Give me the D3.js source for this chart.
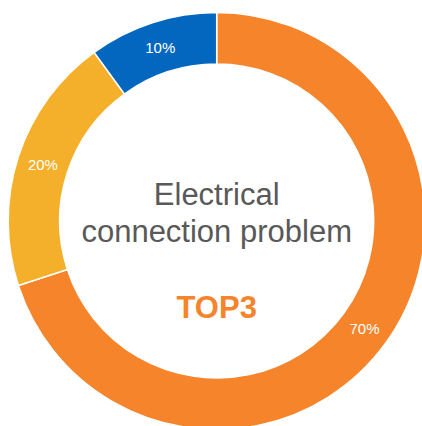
<!DOCTYPE html>
<html>
<head>
<meta charset="utf-8">
<script src="https://cdn.jsdelivr.net/npm/d3@7"></script>
<style>
  body { margin: 0; background: #fff; }
  svg { display: block; }
</style>
</head>
<body>
<div id="vis-tag"></div>
<script>
// data
const categories = ["TOP1", "TOP2", "TOP3"];
const values = [70, 20, 10];
const labels = ["70%", "20%", "10%"];
const colors = ["#F5842B", "#F5B02B", "#0467BF"];

const width = 422;
const height = 426;
const cx = 216.7, cy = 221;
const outerR = 208.5, innerR = 157;

const svg = d3.select("#vis-tag")
  .append("svg")
  .attr("width", width)
  .attr("height", height);

const g = svg.append("g").attr("transform", `translate(${cx},${cy})`);

const pie = d3.pie().sort(null).value(d => d.value);
const arc = d3.arc().innerRadius(innerR).outerRadius(outerR);

const data = categories.map((c, i) => ({ name: c, value: values[i], label: labels[i], color: colors[i] }));
const arcs = pie(data);

// 扇区
g.selectAll("path")
  .data(arcs)
  .enter()
  .append("path")
  .attr("d", arc)
  .attr("fill", d => d.data.color)
  .attr("stroke", "#fff")
  .attr("stroke-width", 1.5);

// 百分比标签
g.selectAll("text.lbl")
  .data(arcs)
  .enter()
  .append("text")
  .attr("class", "lbl")
  .attr("transform", d => `translate(${arc.centroid(d)})`)
  .attr("text-anchor", "middle")
  .attr("dy", "0.36em")
  .attr("fill", "#fff")
  .style("font-family", "'Liberation Sans', Arial, sans-serif")
  .style("font-size", "15px")
  .text(d => d.data.label);

// 中心文字
const center = svg.append("g")
  .attr("text-anchor", "middle")
  .style("font-family", "'Liberation Sans', Arial, sans-serif");

center.append("text")
  .attr("x", cx).attr("y", 205)
  .attr("fill", "#595959")
  .style("font-size", "31px")
  .text("Electrical");

center.append("text")
  .attr("x", cx).attr("y", 242)
  .attr("fill", "#595959")
  .style("font-size", "31px")
  .text("connection problem");

center.append("text")
  .attr("x", cx).attr("y", 318)
  .attr("fill", "#F5842B")
  .style("font-size", "31px")
  .style("font-weight", "bold")
  .text("TOP3");
</script>
</body>
</html>
